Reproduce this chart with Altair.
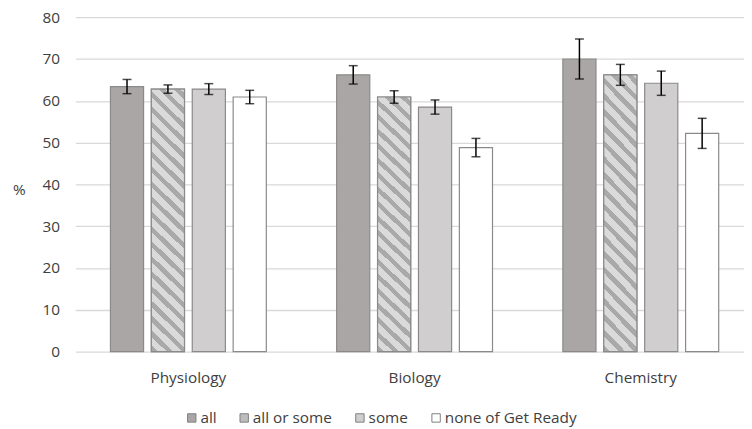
import altair as alt
import pandas as pd

categories = ["Physiology", "Biology", "Chemistry"]
series = ["all", "all or some", "some", "none of Get Ready"]
val_all = [63.4, 66.2, 70.0]
val_all_or_some = [62.8, 60.9, 66.2]
val_some = [62.8, 58.5, 64.2]
val_none = [60.9, 48.8, 52.2]
err_all = [1.7, 2.2, 4.8]
err_all_or_some = [1.0, 1.5, 2.5]
err_some = [1.3, 1.7, 2.9]
err_none = [1.6, 2.2, 3.6]
y_ticks = [0, 10, 20, 30, 40, 50, 60, 70, 80]

values = [val_all, val_all_or_some, val_some, val_none]
errors = [err_all, err_all_or_some, err_some, err_none]
rows = []
for s, vals, errs in zip(series, values, errors):
    for c, v, e in zip(categories, vals, errs):
        rows.append({"category": c, "series": s, "value": v, "lo": v - e, "hi": v + e})
df = pd.DataFrame(rows)

FONT = "Open Sans"
FS = 15.5
TXT = "#404040"
fills = ["#aaa6a6", "#bdbdbd", "#d0cece", "#ffffff"]
DARK = "#a9a9a9"
LIGHT = "#dadada"


def stripe_stops(n, frac):
    stops = []
    for i in range(n):
        o1 = i / n
        o2 = (i + frac) / n
        o3 = (i + 1) / n
        stops += [
            {"offset": o1, "color": DARK},
            {"offset": o2, "color": DARK},
            {"offset": o2, "color": LIGHT},
            {"offset": o3, "color": LIGHT},
        ]
    return stops


hatch = {"gradient": "linear", "stops": stripe_stops(21, 0.42),
         "x1": 0, "y1": 1, "x2": 0.1456, "y2": -0.179}
legend_hatch = {"gradient": "linear", "x1": 0, "y1": 1, "x2": 1, "y2": 0,
                "stops": stripe_stops(2, 0.45)}

x_enc = alt.X(
    "category:N", sort=categories, title=None,
    scale=alt.Scale(range=[0, 686], paddingInner=0.311, paddingOuter=0.1555),
    axis=alt.Axis(labelAngle=0, ticks=False, domain=False, labelPadding=19,
                  labelFont=FONT, labelFontSize=FS, labelColor=TXT, grid=False),
)
xo_enc = alt.XOffset("series:N", sort=series,
                     scale=alt.Scale(domain=series, paddingInner=0.19, paddingOuter=0))

base = alt.Chart(df).encode(x=x_enc, xOffset=xo_enc)

legend_kwargs = dict(
    orient="none", legendX=110, legendY=397, direction="horizontal",
    title=None, symbolType="square", symbolSize=72,
    symbolStrokeColor="#7f7f7f", symbolStrokeWidth=1,
    labelFont=FONT, labelFontSize=FS, labelColor=TXT,
    labelOffset=1, columnPadding=20,
)
legend_encode = {"symbols": {"fill": {"condition": [
    {"test": "datum.value === 'all'", "value": fills[0]},
    {"test": "datum.value === 'all or some'", "value": legend_hatch},
    {"test": "datum.value === 'some'", "value": fills[2]},
], "value": fills[3]}}}

try:
    legend = alt.Legend(encode=legend_encode, **legend_kwargs)
    legend.to_dict()
except Exception:
    legend = alt.Legend(**legend_kwargs)

bars = base.mark_bar(stroke="#8a8a8a", strokeWidth=1.2).encode(
    y=alt.Y("value:Q", scale=alt.Scale(domain=[0, 80], nice=False),
            axis=alt.Axis(values=y_ticks, grid=True, gridColor="#d9d9d9", gridWidth=1.3,
                          domain=False, ticks=False, labelPadding=16, labelFont=FONT,
                          labelFontSize=FS, labelColor=TXT, title="%",
                          titleAngle=0, titleX=-57, titleY=174, titleAlign="center",
                          titleBaseline="middle", titleFont=FONT, titleFontSize=FS,
                          titleFontWeight="normal", titleColor=TXT)),
    color=alt.Color("series:N", sort=series,
                    scale=alt.Scale(domain=series, range=fills),
                    legend=legend),
)

hatched = base.transform_filter(alt.datum.series == "all or some").mark_bar(
    fill=hatch, stroke="#8a8a8a", strokeWidth=1.2
).encode(y="value:Q")

rules = base.mark_rule(color="black", strokeWidth=1.5).encode(y="lo:Q", y2="hi:Q")
cap_lo = base.mark_tick(color="black", thickness=1.5, size=9).encode(y="lo:Q")
cap_hi = base.mark_tick(color="black", thickness=1.5, size=9).encode(y="hi:Q")

chart = alt.layer(bars, hatched, rules, cap_lo, cap_hi).properties(
    width=676, height=338,
    autosize=alt.AutoSizeParams(type="none"),
    padding={"left": 68, "top": 7, "right": 0, "bottom": 76},
    background="white",
).configure_view(stroke=None)

chart.save("out.html", embed_options={"renderer": "svg", "actions": False})
